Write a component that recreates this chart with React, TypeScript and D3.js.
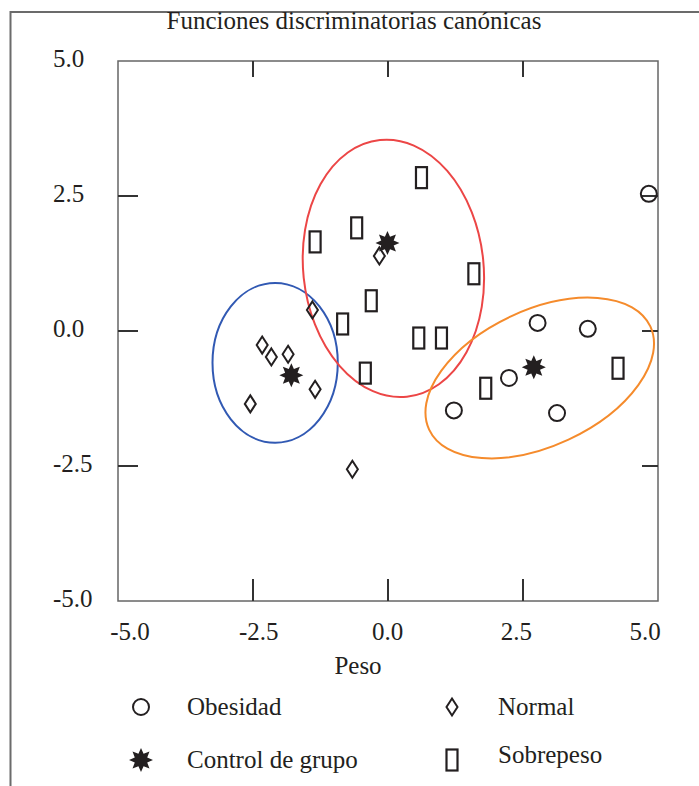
import React from 'react';
import * as d3 from 'd3';

// Canonical discriminant scores
const obesidadX = [2.77, 3.70, 2.24, 1.22, 3.13, 4.83];
const obesidadY = [0.15, 0.04, -0.87, -1.47, -1.52, 2.54];

const normalX = [-1.40, -2.33, -2.16, -1.85, -1.35, -2.55, -0.66, -0.16];
const normalY = [0.39, -0.26, -0.48, -0.43, -1.08, -1.35, -2.56, 1.39];

const sobrepesoX = [0.62, -0.58, -1.35, 1.59, -0.31, -0.84, 0.57, 0.99, -0.42, 1.81, 4.26];
const sobrepesoY = [2.84, 1.91, 1.65, 1.06, 0.56, 0.13, -0.13, -0.13, -0.78, -1.06, -0.69];

// group centroids (Control de grupo)
const centroidX = [-0.01, -1.79, 2.70];
const centroidY = [1.63, -0.82, -0.67];

// group ellipses: centre, semi-axes (data units), rotation (deg)
const ellipseCx = [-2.09, 0.10, 2.81];
const ellipseCy = [-0.59, 1.16, -0.87];
const ellipseRx = [1.16, 1.67, 2.26];
const ellipseRy = [1.48, 2.39, 1.26];
const ellipseRot = [0, -6, -25];
const ellipseColors = ['#3159b3', '#ec4646', '#f58b2c'];

const tickValues = [-5, -2.5, 0, 2.5, 5];
const innerTicks = [-2.5, 0, 2.5];

const FONT = '"Liberation Serif", "DejaVu Serif", serif';
const INK = '#231f20';

const fmt = (t: number) => t.toFixed(1); // plain hyphen, as in the original

function starPath(r: number) {
  const pts: [number, number][] = [];
  for (let i = 0; i < 16; i++) {
    const a = (Math.PI / 8) * i - Math.PI / 2;
    const rr = i % 2 === 0 ? r : r * 0.56;
    pts.push([Math.cos(a) * rr, Math.sin(a) * rr]);
  }
  return d3.line()(pts)! + 'Z';
}

const Marker = ({ kind, x, y }: { kind: string; x: number; y: number }) => {
  if (kind === 'circle') {
    return <circle cx={x} cy={y} r={8} fill="none" stroke={INK} strokeWidth={2} />;
  }
  if (kind === 'diamond') {
    return (
      <path
        d={`M${x},${y - 8.5}L${x + 5.5},${y}L${x},${y + 8.5}L${x - 5.5},${y}Z`}
        fill="none"
        stroke={INK}
        strokeWidth={2}
      />
    );
  }
  if (kind === 'rect') {
    return <rect x={x - 5.5} y={y - 10.5} width={11} height={21} fill="none" stroke={INK} strokeWidth={2.2} />;
  }
  return <path d={starPath(12)} transform={`translate(${x},${y})`} fill={INK} />;
};

export default function App() {
  const width = 699;
  const height = 786;
  const x = d3.scaleLinear().domain([-5, 5]).range([118, 658]);
  const y = d3.scaleLinear().domain([-5, 5]).range([601, 61]);
  // tick labels sit slightly inside the frame ends in the original
  const xLabel = d3.scaleLinear().domain([-5, 5]).range([130, 645]);
  const k = x(1) - x(0);

  return (
    <svg width={width} height={height} style={{ position: 'absolute', left: 0, top: 0 }}>
      <rect width={width} height={height} fill="#fff" />
      {/* page frame */}
      <path d={`M10.5,${height}V12H${width}`} fill="none" stroke="#6b6b6b" strokeWidth={2} />

      <text x={354} y={29} textAnchor="middle" fontFamily={FONT} fontSize={25} fill={INK}>
        Funciones discriminatorias canónicas
      </text>

      {/* plot box */}
      <rect x={x(-5)} y={y(5)} width={x(5) - x(-5)} height={y(-5) - y(5)} fill="none" stroke="#666" strokeWidth={1.5} />

      {innerTicks.map((t) => (
        <g key={'t' + t} stroke="#333" strokeWidth={2}>
          <line x1={x(t)} x2={x(t)} y1={y(5)} y2={y(5) + 16} />
          <line x1={x(t)} x2={x(t)} y1={y(-5)} y2={y(-5) - 22} />
          <line x1={x(-5)} x2={x(-5) + 20} y1={y(t)} y2={y(t)} />
          <line x1={x(5)} x2={x(5) - 16} y1={y(t)} y2={y(t)} />
        </g>
      ))}

      {tickValues.map((t) => (
        <text key={'xl' + t} x={xLabel(t)} y={640} textAnchor="middle" fontFamily={FONT} fontSize={25} fill={INK}>
          {fmt(t)}
        </text>
      ))}
      {tickValues.map((t) => (
        <text key={'yl' + t} x={53} y={y(t) + 6} textAnchor="start" fontFamily={FONT} fontSize={25} fill={INK}>
          {fmt(t)}
        </text>
      ))}

      <text x={358} y={674} textAnchor="middle" fontFamily={FONT} fontSize={25} fill={INK}>
        Peso
      </text>

      {/* group ellipses */}
      {ellipseCx.map((cx, i) => (
        <ellipse
          key={'e' + i}
          cx={0}
          cy={0}
          rx={ellipseRx[i] * k}
          ry={ellipseRy[i] * k}
          transform={`translate(${x(cx)},${y(ellipseCy[i])}) rotate(${ellipseRot[i]})`}
          fill="none"
          stroke={ellipseColors[i]}
          strokeWidth={2}
        />
      ))}

      {sobrepesoX.map((v, i) => (
        <Marker key={'s' + i} kind="rect" x={x(v)} y={y(sobrepesoY[i])} />
      ))}
      {normalX.map((v, i) => (
        <Marker key={'n' + i} kind="diamond" x={x(v)} y={y(normalY[i])} />
      ))}
      {obesidadX.map((v, i) => (
        <Marker key={'o' + i} kind="circle" x={x(v)} y={y(obesidadY[i])} />
      ))}
      {centroidX.map((v, i) => (
        <Marker key={'c' + i} kind="star" x={x(v)} y={y(centroidY[i])} />
      ))}

      {/* legend */}
      <Marker kind="circle" x={141} y={707} />
      <text x={187} y={715} fontFamily={FONT} fontSize={25} fill={INK}>Obesidad</text>
      <Marker kind="diamond" x={452} y={707} />
      <text x={498} y={715} fontFamily={FONT} fontSize={25} fill={INK}>Normal</text>
      <Marker kind="star" x={141} y={760} />
      <text x={187} y={768} fontFamily={FONT} fontSize={25} fill={INK}>Control de grupo</text>
      <Marker kind="rect" x={452} y={760} />
      <text x={498} y={763} fontFamily={FONT} fontSize={25} fill={INK}>Sobrepeso</text>
    </svg>
  );
}
